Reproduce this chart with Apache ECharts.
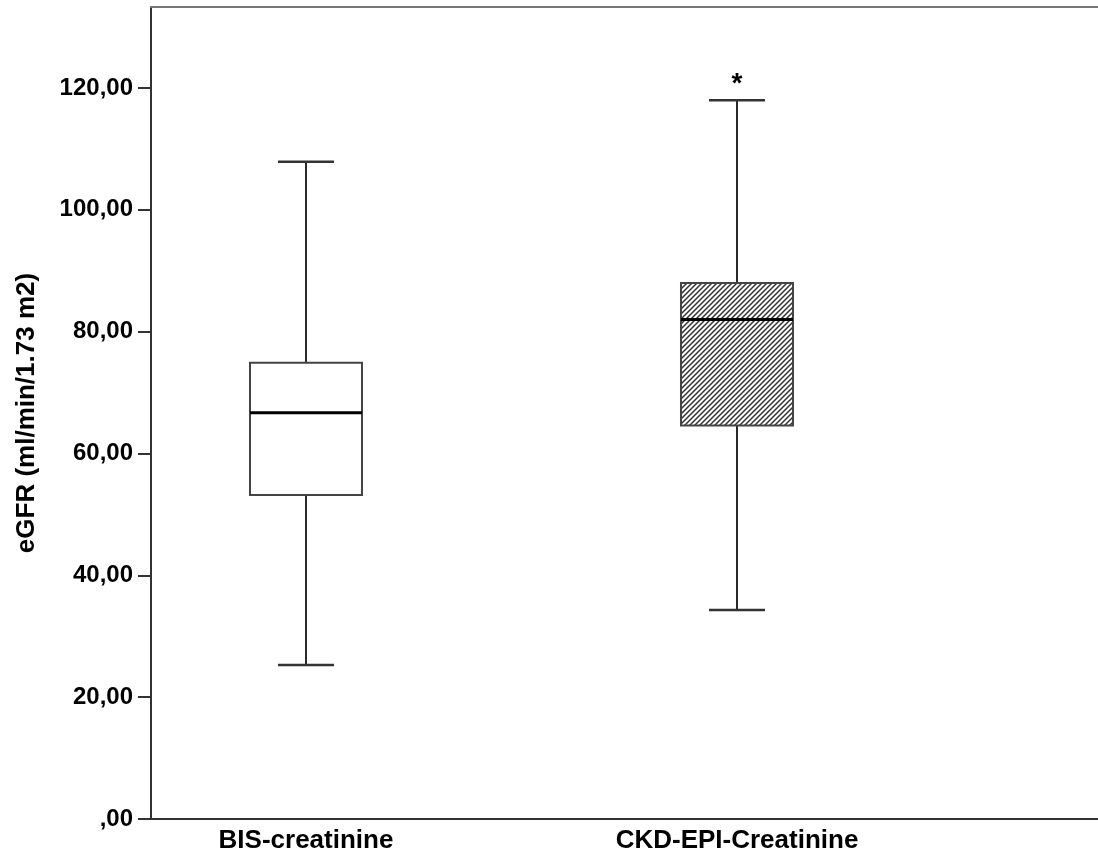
<!DOCTYPE html>
<html>
<head>
<meta charset="utf-8">
<script src="https://cdn.jsdelivr.net/npm/echarts@6/dist/echarts.min.js"></script>
<style>html,body{margin:0;padding:0;background:#fff}#c{width:1098px;height:854px}</style>
</head>
<body>
<div id="c"></div>
<script>
var categories = ['BIS-creatinine', 'CKD-EPI-Creatinine'];
// [min, Q1, median, Q3, max]
var boxStats = [
  [25.3, 53.2, 66.7, 74.9, 107.9],
  [34.3, 64.6, 82.0, 88.0, 118.0]
];
var hatched = [false, true];
// outliers: [category index, value]
var outliers = [[1, 121.8]];
var yTicks = [0, 20, 40, 60, 80, 100, 120];

var chart = echarts.init(document.getElementById('c'), null, {renderer: 'canvas'});

var tile = document.createElement('canvas');
tile.width = 5; tile.height = 5;
var tc = tile.getContext('2d');
tc.fillStyle = '#fff'; tc.fillRect(0, 0, 5, 5);
tc.strokeStyle = '#333'; tc.lineWidth = 1.5;
tc.beginPath();
tc.moveTo(-1, 6); tc.lineTo(6, -1);
tc.moveTo(-1, 1); tc.lineTo(1, -1);
tc.moveTo(4, 6); tc.lineTo(6, 4);
tc.stroke();

var boxData = boxStats.map(function (s, i) { return [i + 1].concat(s).concat([hatched[i] ? 1 : 0]); });
var outData = outliers.map(function (o) { return [o[0] + 1, o[1]]; });

var font = '"Liberation Sans", Arial, sans-serif';
var xMin = 0.6404, xMax = 2.8376;

function renderBox(params, api) {
  var x = api.value(0);
  var pMin = api.coord([x, api.value(1)]);
  var pQ1 = api.coord([x, api.value(2)]);
  var pMed = api.coord([x, api.value(3)]);
  var pQ3 = api.coord([x, api.value(4)]);
  var pMax = api.coord([x, api.value(5)]);
  var hatch = api.value(6) === 1;
  var cx = pMed[0];
  var hw = 56, cw = 28;
  var lineStyle = {stroke: '#2a2a2a', lineWidth: 2};
  return {
    type: 'group',
    children: [
      {type: 'line', shape: {x1: cx, y1: pMax[1], x2: cx, y2: pQ3[1]}, style: lineStyle},
      {type: 'line', shape: {x1: cx, y1: pQ1[1], x2: cx, y2: pMin[1]}, style: lineStyle},
      {type: 'line', shape: {x1: cx - cw, y1: pMax[1], x2: cx + cw, y2: pMax[1]}, style: {stroke: '#333', lineWidth: 2.5}},
      {type: 'line', shape: {x1: cx - cw, y1: pMin[1], x2: cx + cw, y2: pMin[1]}, style: {stroke: '#333', lineWidth: 2.5}},
      {type: 'rect', shape: {x: cx - hw, y: pQ3[1], width: hw * 2, height: pQ1[1] - pQ3[1]},
        style: {fill: hatch ? {image: tile, repeat: 'repeat'} : '#fff', stroke: '#444', lineWidth: 2}},
      {type: 'line', shape: {x1: cx - hw, y1: pMed[1], x2: cx + hw, y2: pMed[1]}, style: {stroke: '#000', lineWidth: 3}}
    ]
  };
}

function renderOutlier(params, api) {
  var p = api.coord([api.value(0), api.value(1)]);
  return {
    type: 'text',
    style: {text: '*', x: p[0], y: p[1] + 7, align: 'center', verticalAlign: 'middle',
      font: 'bold 28px ' + font, fill: '#000'}
  };
}

chart.setOption({
  animation: false,
  backgroundColor: '#fff',
  grid: {left: 151, right: 0, top: 7, bottom: 33, containLabel: false},
  xAxis: [{
    type: 'value', min: xMin, max: xMax,
    axisLine: {show: true, lineStyle: {color: '#333', width: 2}},
    axisTick: {show: false},
    splitLine: {show: false},
    axisLabel: {
      customValues: categories.map(function (c, i) { return i + 1; }),
      formatter: function (v) { return categories[Math.round(v) - 1] || ''; },
      color: '#000', fontWeight: 'bold', fontSize: 26, fontFamily: font, margin: 9
    }
  }, {
    type: 'value', min: xMin, max: xMax, position: 'top',
    axisLine: {show: true, onZero: false, lineStyle: {color: '#777', width: 2}},
    axisTick: {show: false}, axisLabel: {show: false}, splitLine: {show: false}
  }],
  yAxis: {
    type: 'value', min: 0, max: 133.3,
    name: 'eGFR (ml/min/1.73 m2)', nameLocation: 'middle', nameGap: 124,
    nameTextStyle: {color: '#000', fontWeight: 'bold', fontSize: 26, fontFamily: font, verticalAlign: 'middle'},
    axisLine: {show: true, lineStyle: {color: '#333', width: 2}},
    axisTick: {show: true, inside: false, length: 13, customValues: yTicks, lineStyle: {color: '#333', width: 2}},
    splitLine: {show: false},
    axisLabel: {
      customValues: yTicks,
      formatter: function (v) { return v === 0 ? ',00' : v.toFixed(2).replace('.', ','); },
      color: '#000', fontWeight: 'bold', fontSize: 24, fontFamily: font, margin: 18
    }
  },
  series: [{
    type: 'custom', xAxisIndex: 0, renderItem: renderBox,
    encode: {x: 0, y: [1, 2, 3, 4, 5]}, data: boxData
  }, {
    type: 'custom', xAxisIndex: 0, renderItem: renderOutlier,
    encode: {x: 0, y: 1}, data: outData
  }]
});
</script>
</body>
</html>
